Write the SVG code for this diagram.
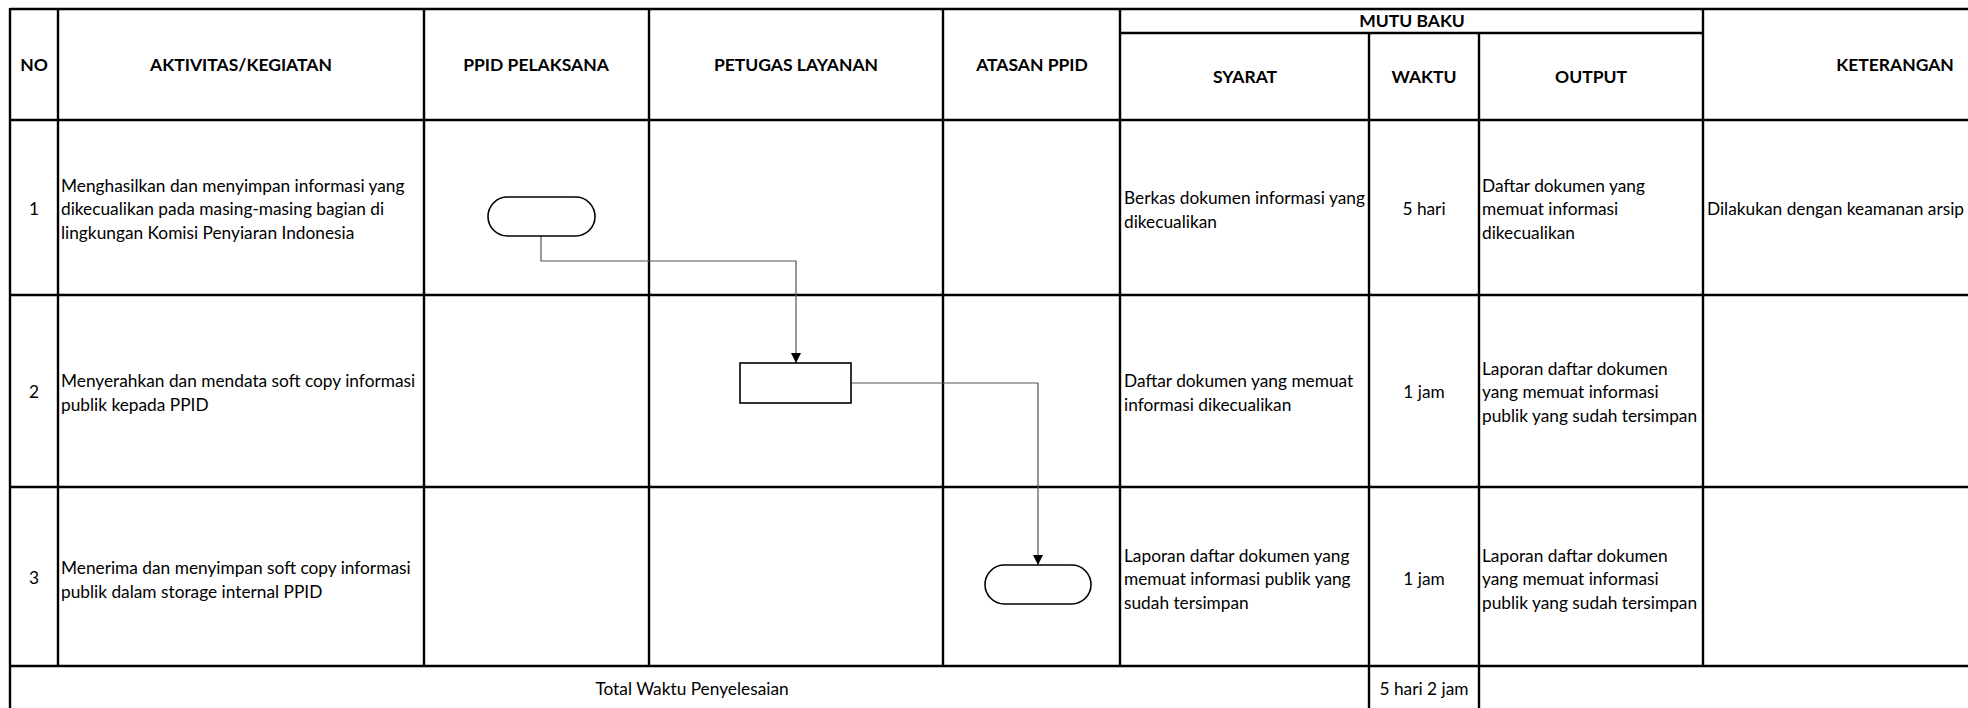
<svg xmlns="http://www.w3.org/2000/svg" width="1968" height="708" viewBox="0 0 1968 708">
<style>
.g{stroke:#000;stroke-width:2.4;fill:none}
.h{font-family:Lato,"Liberation Sans",sans-serif;font-weight:bold;font-size:17.5px;fill:#000;text-anchor:middle;dominant-baseline:central}
.t{font-family:Lato,"Liberation Sans",sans-serif;font-size:17.3px;fill:#000;dominant-baseline:central}
.c{text-anchor:middle}
.n{fill:#fff;stroke:#000;stroke-width:1.6}
.e{fill:none;stroke:#555;stroke-width:1.2}
</style>
<defs>
<marker id="ah" viewBox="0 0 10 10" refX="10" refY="5" markerWidth="10" markerHeight="10" markerUnits="userSpaceOnUse" orient="auto">
<path d="M0,0 L10,5 L0,10 Z" fill="#000"/>
</marker>
</defs>
<rect width="1968" height="708" fill="#fff"/>
<g id="grid">
<line class="g" x1="10" y1="9" x2="1968" y2="9"/>
<line class="g" x1="1120" y1="33" x2="1703" y2="33"/>
<line class="g" x1="10" y1="120" x2="1968" y2="120"/>
<line class="g" x1="10" y1="295" x2="1968" y2="295"/>
<line class="g" x1="10" y1="487" x2="1968" y2="487"/>
<line class="g" x1="10" y1="666" x2="1968" y2="666"/>
<line class="g" x1="10" y1="8" x2="10" y2="708"/>
<line class="g" x1="58" y1="9" x2="58" y2="666"/>
<line class="g" x1="424" y1="9" x2="424" y2="666"/>
<line class="g" x1="649" y1="9" x2="649" y2="666"/>
<line class="g" x1="943" y1="9" x2="943" y2="666"/>
<line class="g" x1="1120" y1="9" x2="1120" y2="666"/>
<line class="g" x1="1369" y1="33" x2="1369" y2="708"/>
<line class="g" x1="1479" y1="33" x2="1479" y2="708"/>
<line class="g" x1="1703" y1="9" x2="1703" y2="666"/>
</g>
<g id="headers">
<text class="h" x="34" y="64">NO</text>
<text class="h" x="241" y="64">AKTIVITAS/KEGIATAN</text>
<text class="h" x="536" y="64">PPID PELAKSANA</text>
<text class="h" x="796" y="64">PETUGAS LAYANAN</text>
<text class="h" x="1032" y="64">ATASAN PPID</text>
<text class="h" x="1412" y="20">MUTU BAKU</text>
<text class="h" x="1245" y="76">SYARAT</text>
<text class="h" x="1424" y="76">WAKTU</text>
<text class="h" x="1591" y="76">OUTPUT</text>
<text class="h" x="1895" y="64">KETERANGAN</text>
</g>
<g id="row1">
<text class="t c" x="34" y="208">1</text>
<text class="t" x="61" y="185">Menghasilkan dan menyimpan informasi yang</text>
<text class="t" x="61" y="208">dikecualikan pada masing-masing bagian di</text>
<text class="t" x="61" y="232">lingkungan Komisi Penyiaran Indonesia</text>
<text class="t" x="1124" y="197">Berkas dokumen informasi yang</text>
<text class="t" x="1124" y="221">dikecualikan</text>
<text class="t c" x="1424" y="208">5 hari</text>
<text class="t" x="1482" y="185">Daftar dokumen yang</text>
<text class="t" x="1482" y="208">memuat informasi</text>
<text class="t" x="1482" y="232">dikecualikan</text>
<text class="t" x="1707" y="208">Dilakukan dengan keamanan arsip</text>
</g>
<g id="row2">
<text class="t c" x="34" y="391">2</text>
<text class="t" x="61" y="380">Menyerahkan dan mendata soft copy informasi</text>
<text class="t" x="61" y="404">publik kepada PPID</text>
<text class="t" x="1124" y="380">Daftar dokumen yang memuat</text>
<text class="t" x="1124" y="404">informasi dikecualikan</text>
<text class="t c" x="1424" y="391">1 jam</text>
<text class="t" x="1482" y="368">Laporan daftar dokumen</text>
<text class="t" x="1482" y="391">yang memuat informasi</text>
<text class="t" x="1482" y="415">publik yang sudah tersimpan</text>
</g>
<g id="row3">
<text class="t c" x="34" y="577">3</text>
<text class="t" x="61" y="567">Menerima dan menyimpan soft copy informasi</text>
<text class="t" x="61" y="591">publik dalam storage internal PPID</text>
<text class="t" x="1124" y="555">Laporan daftar dokumen yang</text>
<text class="t" x="1124" y="578">memuat informasi publik yang</text>
<text class="t" x="1124" y="602">sudah tersimpan</text>
<text class="t c" x="1424" y="578">1 jam</text>
<text class="t" x="1482" y="555">Laporan daftar dokumen</text>
<text class="t" x="1482" y="578">yang memuat informasi</text>
<text class="t" x="1482" y="602">publik yang sudah tersimpan</text>
</g>
<g id="total">
<text class="t c" x="692" y="688">Total Waktu Penyelesaian</text>
<text class="t c" x="1424" y="688">5 hari 2 jam</text>
</g>
<g id="connectors">
<path class="e" d="M541,236 V261 H796 V363" marker-end="url(#ah)"/>
<path class="e" d="M851,383 H1038 V565" marker-end="url(#ah)"/>
</g>
<g id="node-start">
<rect class="n" x="488" y="197" width="107" height="39" rx="19.5" ry="19.5"/>
</g>
<g id="node-process">
<rect class="n" x="740" y="363" width="111" height="40"/>
</g>
<g id="node-end">
<rect class="n" x="985" y="565" width="106" height="39" rx="19.5" ry="19.5"/>
</g>
</svg>
